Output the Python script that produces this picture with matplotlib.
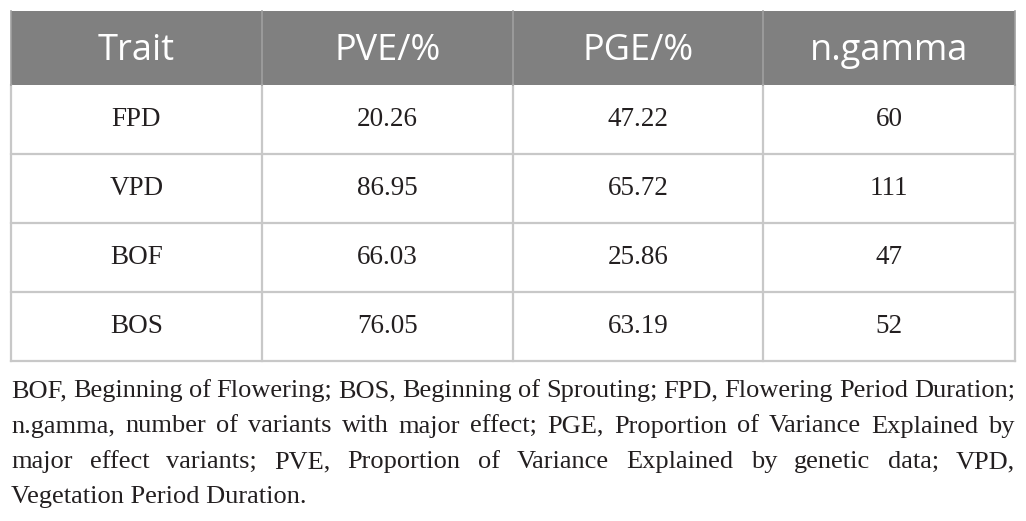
import matplotlib
matplotlib.use("Agg")
import matplotlib.pyplot as plt
from matplotlib.patches import Rectangle

# table content
columns = ["Trait", "PVE/%", "PGE/%", "n.gamma"]
traits = ["FPD", "VPD", "BOF", "BOS"]
pve = ["20.26", "86.95", "66.03", "76.05"]
pge = ["47.22", "65.72", "25.86", "63.19"]
n_gamma = ["60", "111", "47", "52"]

footnote_lines = [
    "BOF, Beginning of Flowering; BOS, Beginning of Sprouting; FPD, Flowering Period Duration;",
    "n.gamma, number of variants with major effect; PGE, Proportion of Variance Explained by",
    "major effect variants; PVE, Proportion of Variance Explained by genetic data; VPD,",
    "Vegetation Period Duration.",
]

W, H = 1026, 521
fig = plt.figure(figsize=(W / 100, H / 100), dpi=100)
ax = fig.add_axes([0, 0, 1, 1])
ax.set_xlim(0, W)
ax.set_ylim(H, 0)
ax.axis("off")

left, right = 11, 1015
top, head_bot = 11, 85
row_h = 69
col_x = [11, 262, 513, 763, 1015]
grid = "#c8c8c8"
ink = "#231f20"

# header band
ax.add_patch(Rectangle((left, top), right - left, head_bot - top,
                       facecolor="#808080", edgecolor="none"))
for i, name in enumerate(columns):
    cx = (col_x[i] + col_x[i + 1]) / 2
    ax.text(cx, (top + head_bot) / 2 + 3, name, ha="center", va="center",
            color="white", fontsize=26, family="Open Sans")

# body rows
rows = list(zip(traits, pve, pge, n_gamma))
for r, vals in enumerate(rows):
    y0 = head_bot + r * row_h
    for i, v in enumerate(vals):
        cx = (col_x[i] + col_x[i + 1]) / 2
        ax.text(cx, y0 + row_h / 2, v, ha="center", va="center",
                color=ink, fontsize=19.5, family="Liberation Serif")

bottom = head_bot + len(rows) * row_h
# grid lines
for r in range(1, len(rows)):
    y = head_bot + r * row_h
    ax.plot([left, right], [y, y], color=grid, lw=1.6)
ax.plot([left, right], [bottom, bottom], color=grid, lw=1.6)
for x in col_x:
    ax.plot([x, x], [head_bot, bottom], color=grid, lw=1.6)
for x in col_x[1:-1]:
    ax.plot([x, x], [top, head_bot], color="#a0a0a0", lw=1.2)
ax.plot([left, left], [top, head_bot], color="#a0a0a0", lw=1.2)
ax.plot([right, right], [top, head_bot], color="#a0a0a0", lw=1.2)

# justified footnote
fig.canvas.draw()
renderer = fig.canvas.get_renderer()
fs = 19
base0, lead = 397, 35.5
for k, line in enumerate(footnote_lines):
    y = base0 + k * lead
    words = line.split(" ")
    if k == len(footnote_lines) - 1:
        ax.text(left, y, line, ha="left", va="baseline", fontsize=fs,
                family="Liberation Serif", color=ink)
        continue
    arts = [ax.text(0, y, w, ha="left", va="baseline", fontsize=fs,
                    family="Liberation Serif", color=ink) for w in words]
    widths = [a.get_window_extent(renderer).width for a in arts]
    gap = (right - left - sum(widths)) / (len(words) - 1)
    x = left
    for a, w in zip(arts, widths):
        a.set_x(x)
        x += w + gap

fig.savefig("out.png", dpi=100)
